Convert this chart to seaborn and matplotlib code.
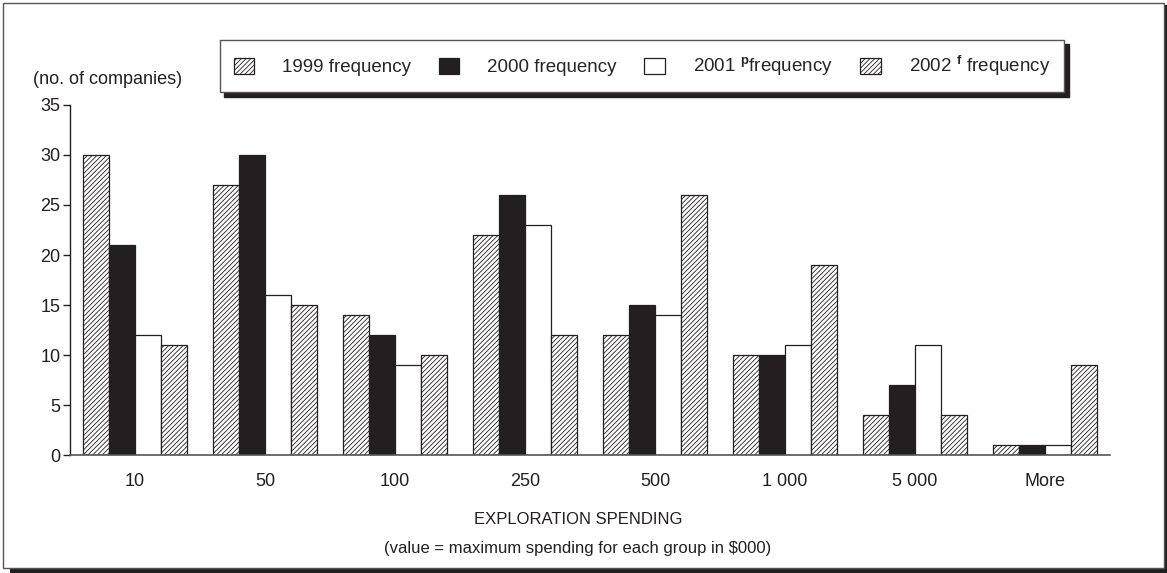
import matplotlib
matplotlib.use("Agg")
import matplotlib.pyplot as plt
import seaborn as sns
import pandas as pd
from matplotlib.patches import Rectangle, Patch

categories = ["10", "50", "100", "250", "500", "1 000", "5 000", "More"]
series_names = ["1999 frequency", "2000 frequency",
                r"2001 $^{\mathbf{p}}$frequency", r"2002 $^{\mathbf{f}}$ frequency"]
v1999 = [30, 27, 14, 22, 12, 10, 4, 1]
v2000 = [21, 30, 12, 26, 15, 10, 7, 1]
v2001 = [12, 16, 9, 23, 14, 11, 11, 1]
v2002 = [11, 15, 10, 12, 26, 19, 4, 9]
y_ticks = [0, 5, 10, 15, 20, 25, 30, 35]

sns.set_theme(style="white")
plt.rcParams['font.family'] = ['Liberation Sans', 'DejaVu Sans']
plt.rcParams['mathtext.fontset'] = 'custom'
plt.rcParams['mathtext.rm'] = 'Liberation Sans'
plt.rcParams['mathtext.bf'] = 'Liberation Sans:bold'
plt.rcParams['hatch.linewidth'] = 0.6
plt.rcParams['hatch.color'] = '#8a8a8a'

rows = []
for name, vals in zip(series_names, [v1999, v2000, v2001, v2002]):
    for c, v in zip(categories, vals):
        rows.append({"cat": c, "series": name, "value": v})
df = pd.DataFrame(rows)

fills = ["white", "#231f20", "white", "white"]
hatches = ["///////", None, None, "///////"]
ink = "#231f20"

fig = plt.figure(figsize=(11.67, 5.73), dpi=100)
W, H = 1167, 573
ax = fig.add_axes([70 / W, (H - 455) / H, 1040 / W, 350 / H])

sns.barplot(data=df, x="cat", y="value", hue="series", order=categories,
            hue_order=series_names, palette=fills, width=0.8, ax=ax,
            edgecolor=ink, linewidth=0.9, saturation=1, legend=False)

for cont, h in zip(ax.containers, hatches):
    for p in cont:
        if h:
            p.set_hatch(h)

ax.set_xlim(-0.5, 7.5)
ax.set_ylim(0, 35)
ax.set_yticks(y_ticks)
ax.set_xlabel("")
ax.set_ylabel("")
for s in ["top", "right"]:
    ax.spines[s].set_visible(False)
ax.spines["left"].set_color(ink)
ax.spines["bottom"].set_color("#555555")
ax.spines["left"].set_linewidth(1.0)
ax.spines["bottom"].set_linewidth(1.2)
ax.tick_params(axis="y", left=True, length=5, width=1, color=ink,
               labelsize=13, pad=2, labelcolor=ink)
ax.tick_params(axis="x", bottom=False, labelsize=13, pad=7, labelcolor=ink)

fig.text(33 / W, 1 - 80 / H, "(no. of companies)", fontsize=13, va="center",
         ha="left", color=ink)
fig.text(578 / W, 1 - 519 / H, "EXPLORATION SPENDING", fontsize=12, va="center",
         ha="center", color=ink)
fig.text(578 / W, 1 - 549 / H, "(value = maximum spending for each group in $000)",
         fontsize=12, va="center", ha="center", color=ink)

handles = [Patch(facecolor=f, edgecolor=ink, hatch=h, linewidth=0.9)
           for f, h in zip(fills, hatches)]
leg = fig.legend(handles, series_names, loc="center", ncol=4,
                 bbox_to_anchor=(642 / W, 1 - 66 / H), fontsize=13.5,
                 frameon=True, fancybox=False, edgecolor="#555555",
                 handlelength=1.1, handleheight=1.0, handletextpad=1.5,
                 columnspacing=1.45, borderpad=0.75,
                 shadow={'ox': 3, 'oy': -3, 'color': ink, 'alpha': 1})
leg.get_frame().set_linewidth(1.0)

# figure frame with shadow
fig.patches.append(Rectangle((10 / W, 0), 1157 / W, 568 / H, transform=fig.transFigure,
                             facecolor=ink, edgecolor="none", zorder=-2))
fig.patches.append(Rectangle((3 / W, 5 / H), 1161 / W, 565 / H, transform=fig.transFigure,
                             facecolor="white", edgecolor="#555555", linewidth=1.0,
                             zorder=-1))

fig.savefig("out.png", dpi=100)
